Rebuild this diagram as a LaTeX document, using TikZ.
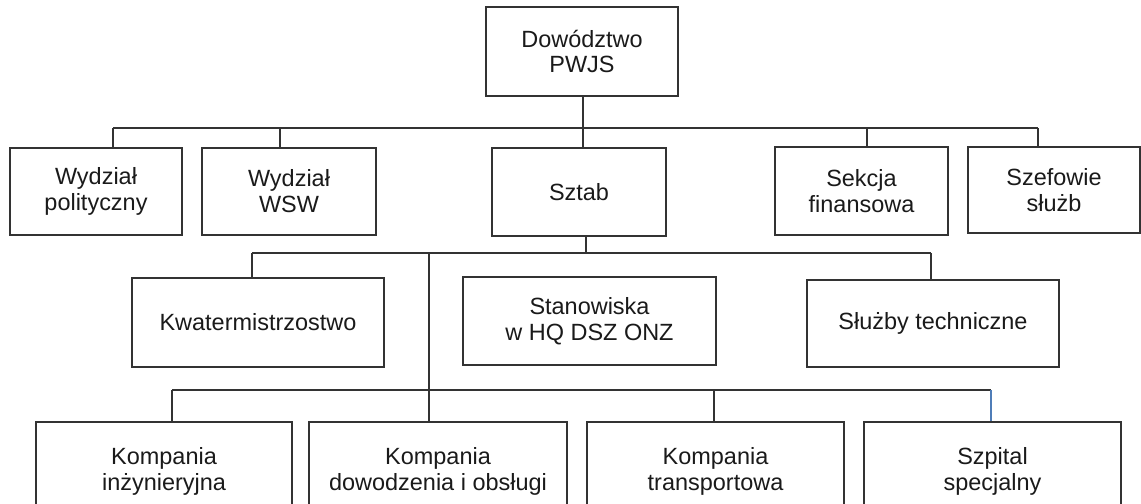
\documentclass[tikz,border=0pt]{standalone}
\usepackage{fontspec}
\setmainfont{Liberation Sans}
\definecolor{linec}{HTML}{333333}
\definecolor{textc}{HTML}{1A1A1A}
\definecolor{bluel}{HTML}{4F7DB8}
\begin{document}
\begin{tikzpicture}[x=0.75pt,y=-0.75pt,
  box/.style 2 args={draw=linec, line width=1.1pt, align=center, inner sep=0pt,
    minimum width=#1*0.75pt, minimum height=#2*0.75pt,
    font=\fontsize{17.6}{19.4}\selectfont, text=textc},
  conn/.style={draw=linec, line width=0.9pt}]
\clip (0,0) rectangle (1141,503);
\fill[white] (0,0) rectangle (1141,503);

% boxes
\node[box={192}{89}] (top) at (582,51.5) {Dowództwo\\PWJS};
\node[box={172}{87}] (pol) at (96,191.5) {Wydział\\polityczny};
\node[box={174}{87}] (wsw) at (289,191.5) {Wydział\\WSW};
\node[box={174}{88}] (sztab) at (579,192) {Sztab};
\node[box={173}{88}] (sek) at (861.5,191) {Sekcja\\finansowa};
\node[box={172}{86}] (szef) at (1054,190) {Szefowie\\służb};
\node[box={252}{89}] (kwat) at (258,322.5) {Kwatermistrzostwo};
\node[box={253}{88}] (stan) at (589.5,321) {Stanowiska\\w HQ DSZ ONZ};
\node[box={252}{87}] (sluz) at (933,323.5) {Służby techniczne};
\node[box={256}{98}] (k1) at (164,471) {Kompania\\inżynieryjna};
\node[box={258}{98}] (k2) at (438,471) {Kompania\\dowodzenia i obsługi};
\node[box={257}{98}] (k3) at (715.5,471) {Kompania\\transportowa};
\node[box={257}{98}] (szp) at (992.5,471) {Szpital\\specjalny};

% bus 1
\coordinate (b1a) at (113,128);
\coordinate (b1b) at (280,128);
\coordinate (b1c) at (583,128);
\coordinate (b1d) at (867,128);
\coordinate (b1e) at (1038,128);
\draw[conn] (top.south -| b1c) -- (b1c);
\draw[conn] (b1a) -- (b1e);
\draw[conn] (b1a) -- (b1a |- pol.north);
\draw[conn] (b1b) -- (b1b |- wsw.north);
\draw[conn] (b1c) -- (b1c |- sztab.north);
\draw[conn] (b1d) -- (b1d |- sek.north);
\draw[conn] (b1e) -- (b1e |- szef.north);

% bus 2
\coordinate (b2s) at (586,253);
\coordinate (b2a) at (252,253);
\coordinate (b2b) at (931,253);
\coordinate (tr) at (429,253);
\draw[conn] (sztab.south -| b2s) -- (b2s);
\draw[conn] (b2a) -- (b2b);
\draw[conn] (b2a) -- (b2a |- kwat.north);
\draw[conn] (b2b) -- (b2b |- sluz.north);
\draw[conn] (tr) -- (tr |- k2.north);

% bus 3
\coordinate (b3a) at (172,390);
\coordinate (b3c) at (714,390);
\coordinate (b3d) at (991,390);
\draw[conn] (b3a) -- (b3d);
\draw[conn] (b3a) -- (b3a |- k1.north);
\draw[conn] (b3c) -- (b3c |- k3.north);
\draw[draw=bluel, line width=0.8pt] (b3d) -- (b3d |- szp.north);
\end{tikzpicture}
\end{document}
